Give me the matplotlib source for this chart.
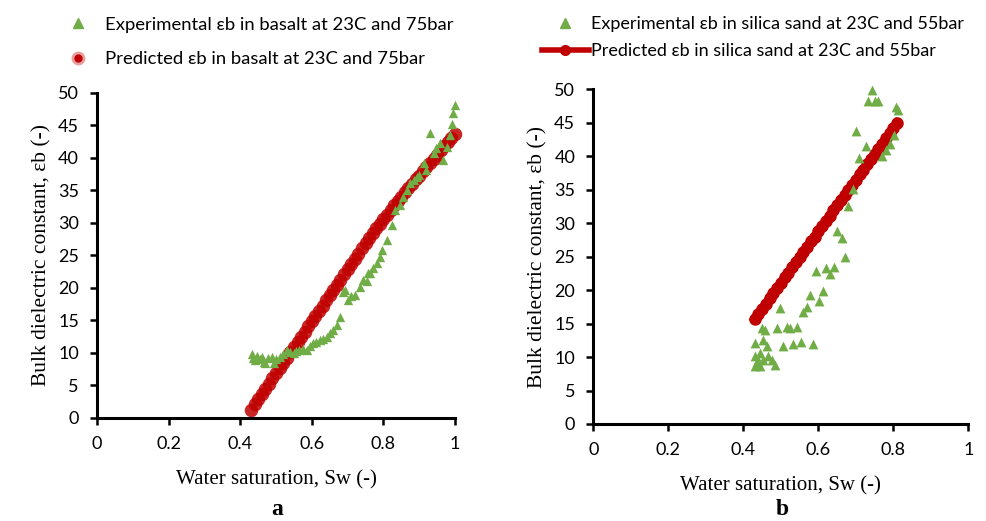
import matplotlib
matplotlib.use('Agg')
import matplotlib.pyplot as plt
from matplotlib.lines import Line2D

plt.rcParams['font.family'] = ['Lato', 'DejaVu Sans']

green = '#70AD47'
red = '#C00000'

# basalt, 23C / 75bar
sw_exp_a = [0.432, 0.436, 0.442, 0.447, 0.455, 0.46, 0.466, 0.47, 0.478, 0.488, 0.493, 0.50,
            0.512, 0.52, 0.53, 0.54, 0.549, 0.556, 0.563, 0.575, 0.586, 0.595, 0.604, 0.613,
            0.623, 0.632, 0.642, 0.65, 0.66, 0.67, 0.679, 0.688, 0.692, 0.702, 0.71, 0.72,
            0.735, 0.744, 0.754, 0.758, 0.763, 0.772, 0.781, 0.79, 0.795, 0.809, 0.823, 0.833,
            0.845, 0.856, 0.865, 0.874, 0.884, 0.893, 0.90, 0.912, 0.92, 0.93, 0.94, 0.948,
            0.958, 0.967, 0.977, 0.986, 0.991, 0.995, 1.0]
eb_exp_a = [9.9, 9.3, 8.9, 9.6, 9.0, 9.4, 8.6, 8.4, 9.2, 9.4, 8.4, 9.0,
            9.4, 9.8, 10.5, 10.2, 10.0, 10.3, 10.5, 10.6, 10.5, 11.0, 11.5, 11.7,
            12.0, 12.2, 12.5, 13.0, 13.5, 14.3, 15.6, 19.4, 19.7, 18.2, 18.7, 18.9,
            20.2, 21.2, 21.0, 22.3, 22.3, 23.0, 23.8, 24.8, 25.8, 27.4, 29.7, 32.0,
            32.8, 34.0, 35.0, 36.1, 36.6, 37.1, 37.4, 39.2, 38.2, 43.8, 40.7, 41.5,
            42.3, 39.7, 41.7, 43.5, 45.3, 46.9, 48.2]

sw_pred_a = [0.43, 0.44, 0.45, 0.46, 0.47, 0.48, 0.49, 0.50, 0.51, 0.52, 0.53, 0.54, 0.55, 0.56,
             0.57, 0.58, 0.59, 0.60, 0.61, 0.62, 0.63, 0.64, 0.65, 0.66, 0.67, 0.68, 0.69, 0.70,
             0.71, 0.72, 0.73, 0.74, 0.75, 0.76, 0.77, 0.78, 0.79, 0.80, 0.81, 0.82, 0.83, 0.84,
             0.85, 0.86, 0.87, 0.88, 0.89, 0.90, 0.91, 0.92, 0.93, 0.94, 0.95, 0.96, 0.97, 0.98,
             0.99, 1.00]
eb_pred_a = [1.3, 2.1, 2.9, 3.7, 4.5, 5.3, 6.1, 6.9, 7.7, 8.5, 9.3, 10.1, 10.9, 11.7,
             12.5, 13.3, 14.1, 14.9, 15.7, 16.5, 17.3, 18.1, 18.9, 19.7, 20.5, 21.3, 22.1, 22.9,
             23.7, 24.5, 25.3, 26.1, 26.9, 27.7, 28.5, 29.2, 29.9, 30.6, 31.3, 32.0, 32.7, 33.4,
             34.0, 34.7, 35.4, 36.0, 36.7, 37.3, 38.0, 38.6, 39.3, 39.9, 40.5, 41.2, 41.8, 42.4,
             43.1, 43.7]

# silica sand, 23C / 55bar
sw_exp_b = [0.431, 0.431, 0.431, 0.436, 0.44, 0.444, 0.444, 0.449, 0.453, 0.453, 0.458, 0.462,
            0.467, 0.476, 0.485, 0.491, 0.498, 0.507, 0.516, 0.525, 0.533, 0.544, 0.553, 0.56,
            0.569, 0.578, 0.585, 0.594, 0.603, 0.613, 0.621, 0.631, 0.642, 0.651, 0.662, 0.671,
            0.68, 0.693, 0.70, 0.709, 0.726, 0.733, 0.744, 0.751, 0.76, 0.769, 0.78, 0.791,
            0.803, 0.807, 0.813]
eb_exp_b = [12.1, 10.1, 8.6, 9.2, 9.6, 8.6, 10.6, 14.3, 12.6, 9.6, 14.0, 11.6,
            10.1, 9.6, 8.8, 14.3, 17.3, 11.7, 14.5, 14.4, 11.9, 14.5, 12.2, 16.7,
            17.5, 19.3, 12.0, 22.9, 18.4, 19.8, 23.3, 22.4, 23.4, 28.9, 27.8, 25.0,
            32.5, 35.1, 43.7, 39.8, 41.5, 48.3, 49.9, 48.2, 48.3, 40.0, 41.0, 41.9,
            43.2, 47.3, 46.9]

sw_pred_b = [0.43, 0.44, 0.45, 0.46, 0.47, 0.48, 0.49, 0.50, 0.51, 0.52, 0.53, 0.54, 0.55,
             0.56, 0.57, 0.58, 0.59, 0.60, 0.61, 0.62, 0.63, 0.64, 0.65, 0.66, 0.67, 0.68,
             0.69, 0.70, 0.71, 0.72, 0.73, 0.74, 0.75, 0.76, 0.77, 0.78, 0.79, 0.80, 0.81]
eb_pred_b = [15.7, 16.5, 17.2, 18.0, 18.8, 19.6, 20.3, 21.1, 21.9, 22.6, 23.4, 24.2, 25.0,
             25.7, 26.5, 27.3, 28.0, 28.8, 29.6, 30.3, 31.1, 31.9, 32.7, 33.4, 34.2, 35.0,
             35.7, 36.5, 37.3, 38.0, 38.8, 39.6, 40.4, 41.1, 41.9, 42.7, 43.4, 44.2, 45.0]

x_ticks = [0, 0.2, 0.4, 0.6, 0.8, 1]
x_labels = ['0', '0.2', '0.4', '0.6', '0.8', '1']
y_ticks = [0, 5, 10, 15, 20, 25, 30, 35, 40, 45, 50]

fig = plt.figure(figsize=(9.86, 5.21), dpi=100)
ax1 = fig.add_axes([0.0984, 0.1977, 0.3631, 0.6238])
ax2 = fig.add_axes([0.6017, 0.1862, 0.3803, 0.6424])

ax1.scatter(sw_pred_a, eb_pred_a, s=95, marker='o', color=red, alpha=0.85,
            linewidths=0, zorder=2)
ax1.scatter(sw_exp_a, eb_exp_a, s=45, marker='^', color=green, linewidths=0, zorder=3)

ax2.plot(sw_pred_b, eb_pred_b, color=red, lw=6, marker='o', ms=8, zorder=2)
ax2.scatter(sw_exp_b, eb_exp_b, s=50, marker='^', color=green, linewidths=0, zorder=3)

for ax in (ax1, ax2):
    ax.set_xlim(0, 1)
    ax.set_ylim(0, 50)
    ax.set_xticks(x_ticks)
    ax.set_xticklabels(x_labels)
    ax.set_yticks(y_ticks)
    for side in ('top', 'right'):
        ax.spines[side].set_visible(False)
    for side in ('left', 'bottom'):
        ax.spines[side].set_linewidth(2.2)
    ax.tick_params(axis='both', direction='out', length=5, width=1.8, labelsize=13, pad=8)
    ax.set_xlabel('Water saturation, Sw (-)', family='Liberation Serif', fontsize=15, labelpad=13)
    ax.set_ylabel('Bulk dielectric constant, εb (-)', family='Liberation Serif', fontsize=15.5,
                  labelpad=5)

for c in ax1.collections + ax2.collections + ax2.lines:
    c.set_clip_on(False)

fig.text(0.281, 0.012, 'a', family='Liberation Serif', fontsize=17, fontweight='bold', ha='center')
fig.text(0.793, 0.012, 'b', family='Liberation Serif', fontsize=17, fontweight='bold', ha='center')

h_exp = Line2D([], [], ls='none', marker='^', color=green, ms=7)
h_pred_a = Line2D([], [], ls='none', marker='o', ms=8, markerfacecolor=red,
                  markeredgecolor='#E8A0A0', markeredgewidth=2)
h_pred_b = Line2D([], [], color=red, lw=4, marker='o', ms=7)

ax1.legend([h_exp, h_pred_a],
           ['Experimental εb in basalt at 23C and 75bar', 'Predicted εb in basalt at 23C and 75bar'],
           loc='upper left', bbox_to_anchor=(0.048, 1.0), bbox_transform=fig.transFigure,
           frameon=False, fontsize=13.3, handlelength=1.5, handletextpad=0.7, labelspacing=1.0)
ax2.legend([h_exp, h_pred_b],
           ['Experimental εb in silica sand at 23C and 55bar', 'Predicted εb in silica sand at 23C and 55bar'],
           loc='upper left', bbox_to_anchor=(0.533, 1.0), bbox_transform=fig.transFigure,
           frameon=False, fontsize=13, handlelength=2.6, handletextpad=0.1, labelspacing=0.6)

fig.savefig('out.png', dpi=100)
